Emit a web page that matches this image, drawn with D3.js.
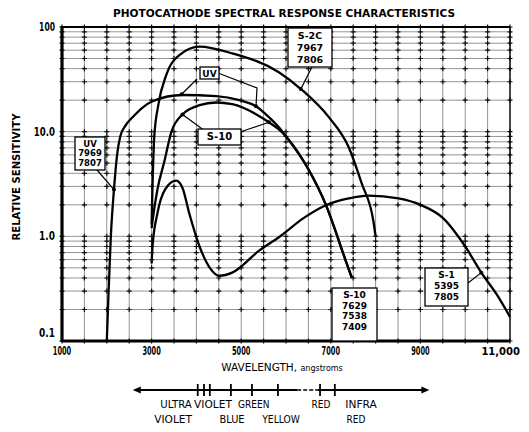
<!DOCTYPE html>
<meta charset="utf-8">
<body style="margin:0;background:#fff">
<div id="chart"></div>
<script src="https://cdn.jsdelivr.net/npm/d3@7/dist/d3.min.js"></script>
<script>
// wavelength (angstroms) / relative sensitivity
const xTicks = [1000, 3000, 5000, 7000, 9000, 11000];
const xTickLabels = ["1000", "3000", "5000", "7000", "9000", "11,000"];
const yTicks = [100, 10, 1, 0.1];
const yTickLabels = ["100", "10.0", "1.0", "0.1"];

const uvCurve = [[2000,0.1],[2040,0.3],[2090,1.0],[2160,2.8],[2230,6],[2300,9],[2420,11.5],[2580,13.8],
  [2800,17],[3020,19.5],[3690,22.4],[4440,21.9],[4960,20],[5330,17.5],[5600,14],[5840,11],[6000,9],
  [6510,4.3],[6890,2.0],[7330,0.59],[7470,0.4]];
const s10Curve = [[3000,1.2],[3020,1.4],[3130,2.8],[3290,5.3],[3440,9.9],[3690,14.6],[4070,17.9],
  [4440,19],[4800,18.3],[5330,14.7],[5620,12.3],[5840,10.5],[6000,9],[6510,4.3],[6890,2.0],[7330,0.59],[7470,0.4]];
const s20Curve = [[3000,1.3],[3020,3],[3060,9],[3150,18],[3330,35],[3620,54],[4070,65],[4800,56],
  [5840,37],[6360,25],[6960,13.7],[7400,7.1],[7690,3.2],[7950,1.4],[8000,1.0]];
const s1Curve = [[3000,0.55],[3020,0.8],[3130,1.66],[3300,2.8],[3550,3.4],[3690,2.9],[3840,1.66],[4070,0.8],
  [4300,0.5],[4510,0.42],[4800,0.45],[5400,0.73],[5840,0.98],[6400,1.5],[6890,1.98],[7400,2.3],
  [7840,2.45],[8510,2.3],[9000,2.0],[9500,1.5],[10000,0.8],[10360,0.45],[10700,0.28],[11000,0.17]];

// spectrum band boundaries and names (wavelength at the centre of each name)
const bandEdges = [4030, 4170, 4300, 4770, 5240, 5820, 6760, 7090];
const bandNamesTop = ["ULTRA", "VIOLET", "GREEN", "RED", "INFRA"];
const bandTopAt = [3545, 4370, 5280, 6780, 7675];
const bandNamesBottom = ["VIOLET", "BLUE", "YELLOW", "RED"];
const bandBottomAt = [3480, 4795, 5890, 7560];

const width = 529, height = 432;
const pLeft = 62, pRight = 510, pTop = 27, pBottom = 341;

const svg = d3.select("#chart").append("svg")
    .attr("width", width)
    .attr("height", height)
    .style("font-family", "'DejaVu Sans', sans-serif");

svg.append("rect").attr("width", width).attr("height", height).attr("fill", "#fff");

const x = d3.scaleLinear().domain([1000, 11000]).range([pLeft, pRight]);
const y = d3.scaleLog().domain([0.1, 100]).range([pBottom, pTop]);

// grid
const xGrid = d3.range(1000, 11001, 500);
const yGrid = [];
[0.1, 1, 10].forEach(d => { for (let k = 1; k < 10; k++) yGrid.push(k * d); });
yGrid.push(100);

const grid = svg.append("g");
grid.selectAll(".vg").data(xGrid).enter().append("line")
    .attr("x1", d => x(d)).attr("x2", d => x(d))
    .attr("y1", pTop).attr("y2", pBottom)
    .attr("stroke", "#666").attr("stroke-width", 0.7);
grid.selectAll(".hg").data(yGrid).enter().append("line")
    .attr("x1", pLeft).attr("x2", pRight)
    .attr("y1", d => y(d)).attr("y2", d => y(d))
    .attr("stroke", "#666").attr("stroke-width", 0.7);

// little crosses where the grid meets
const crosses = [];
xGrid.forEach(a => yGrid.forEach(b => crosses.push([a, b])));
grid.selectAll(".cr").data(crosses).enter().append("path")
    .attr("d", d => `M${x(d[0]) - 2.5},${y(d[1])}h5M${x(d[0])},${y(d[1]) - 2.5}v5`)
    .attr("stroke", "#111").attr("stroke-width", 1.2);

// frame
svg.append("line").attr("x1", pLeft).attr("x2", pRight).attr("y1", pTop).attr("y2", pTop)
    .attr("stroke", "#000").attr("stroke-width", 2.2);
svg.append("line").attr("x1", pRight).attr("x2", pRight).attr("y1", pTop).attr("y2", pBottom)
    .attr("stroke", "#000").attr("stroke-width", 1.3);
svg.append("line").attr("x1", pLeft).attr("x2", pRight).attr("y1", pBottom).attr("y2", pBottom)
    .attr("stroke", "#000").attr("stroke-width", 2.8);
svg.append("line").attr("x1", pLeft).attr("x2", pLeft).attr("y1", pTop - 1).attr("y2", pBottom + 1)
    .attr("stroke", "#000").attr("stroke-width", 3.2);

// tick labels (the last one is pulled in so it stays on the page)
const last = xTicks.length - 1;
svg.selectAll(".xl").data(xTicks.slice(0, last)).enter().append("text")
    .attr("x", d => x(d))
    .attr("y", 355)
    .attr("text-anchor", "middle")
    .attr("font-size", 12).attr("font-weight", "bold")
    .attr("textLength", (d, i) => xTickLabels[i].length * 4.6)
    .attr("lengthAdjust", "spacingAndGlyphs")
    .text((d, i) => xTickLabels[i]);
svg.append("text")
    .attr("x", 520).attr("y", 355)
    .attr("text-anchor", "end")
    .attr("font-size", 10).attr("font-weight", "bold")
    .text(xTickLabels[last]);

svg.selectAll(".yl").data(yTicks).enter().append("text")
    .attr("x", 55)
    .attr("y", (d, i) => y(d) + (i === 3 ? -4 : 4))
    .attr("text-anchor", "end")
    .attr("font-size", 11.5).attr("font-weight", "bold")
    .attr("textLength", (d, i) => yTickLabels[i].length * 5.3)
    .attr("lengthAdjust", "spacingAndGlyphs")
    .text((d, i) => yTickLabels[i]);

svg.append("text")
    .attr("transform", "translate(20,177) rotate(-90)")
    .attr("text-anchor", "middle")
    .attr("font-size", 10).attr("font-weight", "bold")
    .attr("textLength", 127).attr("lengthAdjust", "spacingAndGlyphs")
    .text("RELATIVE SENSITIVITY");

svg.append("text")
    .attr("x", 284).attr("y", 17)
    .attr("text-anchor", "middle")
    .attr("font-size", 10.5).attr("font-weight", "bold")
    .attr("textLength", 342).attr("lengthAdjust", "spacingAndGlyphs")
    .text("PHOTOCATHODE SPECTRAL RESPONSE CHARACTERISTICS");

const xTitle = svg.append("text")
    .attr("x", 282).attr("y", 371)
    .attr("text-anchor", "middle");
xTitle.append("tspan").attr("font-size", 10.5).text("WAVELENGTH, ");
xTitle.append("tspan").attr("font-size", 8).text("angstroms");

// curves
const line = d3.line().x(d => x(d[0])).y(d => y(d[1])).curve(d3.curveMonotoneX);
const curves = svg.append("g");
[uvCurve, s10Curve, s20Curve, s1Curve].forEach(c => {
  curves.append("path")
      .attr("d", line(c))
      .attr("fill", "none")
      .attr("stroke", "#000")
      .attr("stroke-width", 2.3);
});

// annotation boxes
function box(x0, y0, w, h, lines, lineGap, fs) {
  const g = svg.append("g");
  g.append("rect").attr("x", x0).attr("y", y0).attr("width", w).attr("height", h)
      .attr("fill", "#fff").attr("stroke", "#000").attr("stroke-width", 1.3);
  lines.forEach((t, i) => {
    g.append("text")
        .attr("x", x0 + w / 2)
        .attr("y", y0 + 10 + i * lineGap + (fs - 9))
        .attr("text-anchor", "middle")
        .attr("font-size", fs).attr("font-weight", "bold")
        .text(t);
  });
}
function leader(pts, target) {
  const all = pts.concat([[x(target[0]), y(target[1])]]);
  svg.append("path").attr("d", d3.line()(all))
      .attr("fill", "none").attr("stroke", "#000").attr("stroke-width", 1.2);
  svg.append("circle").attr("cx", x(target[0])).attr("cy", y(target[1])).attr("r", 2).attr("fill", "#000");
}

leader([[312, 67]], [6330, 25.5]);
box(288, 28, 44, 39, ["S-2C", "7967", "7806"], 12, 9.5);

leader([[197, 79]], [3670, 22.8]);
leader([[218, 73], [257, 88]], [5330, 17.5]);
box(200, 67, 19, 12, ["UV"], 0, 9);

leader([[205, 131]], [3690, 14.6]);
leader([[240, 132]], [5620, 12.3]);
box(198, 129, 43, 16, ["S-10"], 0, 10);

leader([[97, 170]], [2160, 2.8]);
box(75, 137, 30, 33, ["UV", "7969", "7807"], 9.5, 8.5);

box(332, 288, 45, 53, ["S-10", "7629", "7538", "7409"], 10.5, 9);

leader([[468, 283]], [10360, 0.45]);
box(425, 268, 43, 38, ["S-1", "5395", "7805"], 11, 9);

// spectrum bar
const sy = 390;
svg.append("line").attr("x1", x(2650)).attr("x2", x(6250)).attr("y1", sy).attr("y2", sy)
    .attr("stroke", "#000").attr("stroke-width", 2);
svg.append("line").attr("x1", x(6250)).attr("x2", x(6700)).attr("y1", sy).attr("y2", sy)
    .attr("stroke", "#000").attr("stroke-width", 1.4).attr("stroke-dasharray", "4,2");
svg.append("line").attr("x1", x(6700)).attr("x2", x(9050)).attr("y1", sy).attr("y2", sy)
    .attr("stroke", "#000").attr("stroke-width", 2);
svg.append("path").attr("d", `M${x(2580)},${sy}l8,-3.5v7z`).attr("fill", "#000");
svg.append("path").attr("d", `M${x(9200)},${sy}l-8,-3.5v7z`).attr("fill", "#000");
svg.selectAll(".bt").data(bandEdges).enter().append("line")
    .attr("x1", d => x(d)).attr("x2", d => x(d))
    .attr("y1", sy - 6).attr("y2", sy + 6)
    .attr("stroke", "#000").attr("stroke-width", 1.8);

svg.selectAll(".bn1").data(bandNamesTop).enter().append("text")
    .attr("x", (d, i) => x(bandTopAt[i])).attr("y", 408)
    .attr("text-anchor", "middle").attr("font-size", 10)
    .attr("textLength", d => d.length * 6.3).attr("lengthAdjust", "spacingAndGlyphs")
    .text(d => d);
svg.selectAll(".bn2").data(bandNamesBottom).enter().append("text")
    .attr("x", (d, i) => x(bandBottomAt[i])).attr("y", 423)
    .attr("text-anchor", "middle").attr("font-size", 10)
    .attr("textLength", d => d.length * 6.3).attr("lengthAdjust", "spacingAndGlyphs")
    .text(d => d);
</script>
</body>
